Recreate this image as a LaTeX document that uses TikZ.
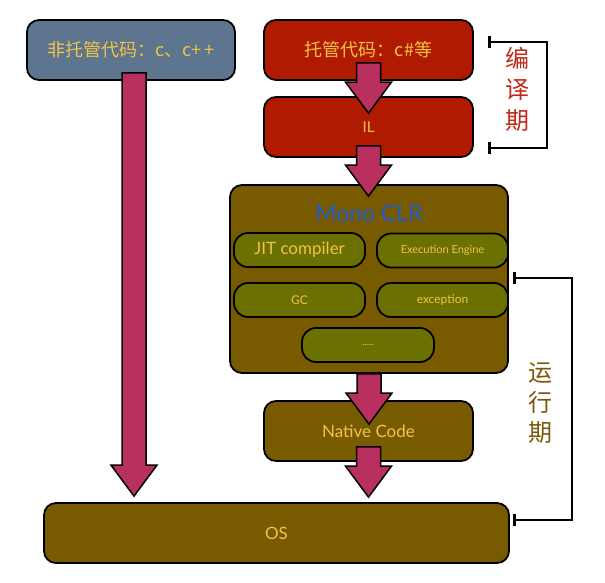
\documentclass[tikz,border=0pt]{standalone}
\usepackage{fontspec}
\setmainfont{Lato}
\newfontfamily\cjk{Noto Sans CJK SC}
\usetikzlibrary{calc,arrows.meta}
\definecolor{slate}{HTML}{5E7590}
\definecolor{darkred}{HTML}{B01A00}
\definecolor{brownolive}{HTML}{785A00}
\definecolor{olivegreen}{HTML}{6B7000}
\definecolor{txtyellow}{HTML}{F2C446}
\definecolor{arrowfill}{HTML}{B93060}
\definecolor{monoblue}{HTML}{1E5BD0}
\definecolor{compred}{HTML}{C02818}
\definecolor{runbrown}{HTML}{7A5A0A}
\newcommand\fatarrow[2]{\draw[fatarrowsty] let \p1=#1, \p2=#2 in
  (\x1-12pt,\y1) -- (\x1+12pt,\y1) -- (\x1+12pt,\y2+31pt) -- (\x1+23pt,\y2+31pt)
  -- (\x1,\y2) -- (\x1-23pt,\y2+31pt) -- (\x1-12pt,\y2+31pt) -- cycle;}
\begin{document}
\begin{tikzpicture}[x=1pt,y=1pt,
  box/.style={draw=black, line width=1.8pt, rounded corners=12pt, inner sep=0pt,
    text=txtyellow, align=center},
  bigbox/.style={box, minimum width=209pt, minimum height=60pt},
  smallbox/.style={box, fill=olivegreen, minimum width=131pt, minimum height=34pt, rounded corners=14pt},
  fatarrowsty/.style={fill=arrowfill, draw=black, line width=1.5pt, line join=miter},
  bracket/.style={draw=black, line width=2.5pt, {Bar[width=12pt,line width=2.5pt]}-{Bar[width=12pt,line width=2.5pt]}},
  cjkfont/.style={font=\cjk\fontsize{18}{21}\selectfont},
  latfont/.style={font=\fontsize{#1}{#1}\selectfont},
]
\useasboundingbox (0,0) rectangle (605,-582);
\fill[white] (0,0) rectangle (605,-582);

\node[bigbox, fill=slate, minimum width=208pt, cjkfont] (unman) at (131,-50) {非托管代码：c、c+\,+};
\node[bigbox, fill=darkred, cjkfont] (managed) at (368.5,-50) {托管代码：c\#等};
\node[bigbox, fill=darkred, latfont=15] (il) at (368.5,-127) {IL};
\node[box, fill=brownolive, minimum width=278pt, minimum height=188pt] (mono) at (369,-279) {};
\node[text=monoblue, latfont=23, inner sep=0pt] (monolabel) at (369,-213) {Mono CLR};
\node[smallbox, latfont=17] (jit) at (299.5,-250) {JIT compiler};
\node[smallbox, latfont=11] (exec) at (442.5,-250.5) {Execution Engine};
\node[smallbox, latfont=12] (gc) at (299.5,-300) {GC};
\node[smallbox, latfont=12] (exc) at (442.5,-300) {exception};
\node[smallbox, latfont=10, minimum width=132pt] (dots) at (368,-345) {.....};
\node[bigbox, fill=brownolive, latfont=17] (native) at (368.5,-431) {Native Code};
\node[bigbox, fill=brownolive, minimum width=465pt, latfont=17] (os) at (276.5,-533) {OS};

\fatarrow{($(unman.south)+(3,8)$)}{($(unman.south |- os.north)+(3,6)$)}
\fatarrow{($(managed.south)+(0,18)$)}{($(il.north)+(0,-17)$)}
\fatarrow{($(il.south)+(0,12)$)}{($(mono.north)+(0,-12)$)}
\fatarrow{(mono.south)}{($(native.north)+(0,-24)$)}
\fatarrow{($(native.south)+(0,15)$)}{($(os.north)+(0,5)$)}

\coordinate (cb1) at (488,-42);
\coordinate (cb2) at (488,-148);
\draw[bracket] (cb1) -- (547,-42) -- (547,-148) -- (cb2);
\node[text=compred, font=\cjk\fontsize{24}{31}\selectfont, align=center, inner sep=0pt] (complabel) at (517,-89) {编\\译\\期};

\coordinate (rb1) at (513,-278);
\coordinate (rb2) at (513,-520);
\draw[bracket] (rb1) -- (572,-278) -- (572,-520) -- (rb2);
\node[text=runbrown, font=\cjk\fontsize{24}{30}\selectfont, align=center, inner sep=0pt] (runlabel) at (540,-403) {运\\行\\期};
\end{tikzpicture}
\end{document}
